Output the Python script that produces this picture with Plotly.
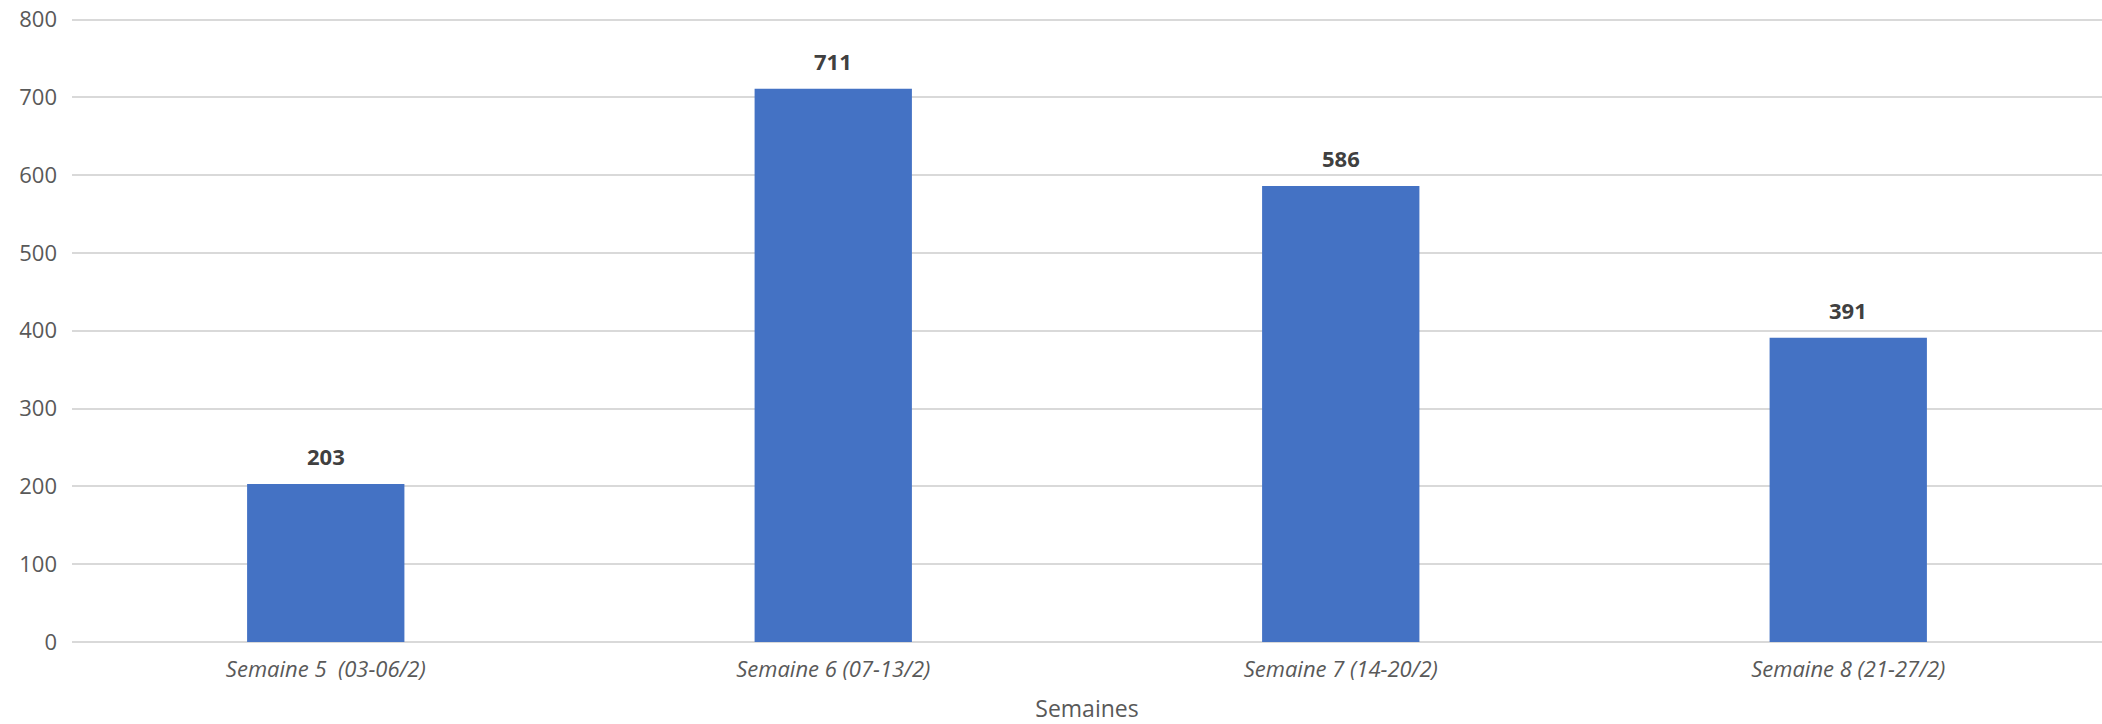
import plotly.graph_objects as go

categories = ["Semaine 5  (03-06/2)", "Semaine 6 (07-13/2)", "Semaine 7 (14-20/2)", "Semaine 8 (21-27/2)"]
values = [203, 711, 586, 391]
y_ticks = [0, 100, 200, 300, 400, 500, 600, 700, 800]

FONT = "Open Sans"

fig = go.Figure()
fig.add_trace(go.Bar(
    x=categories,
    y=values,
    marker=dict(color="#4472C4", line=dict(width=0)),
    showlegend=False,
    hoverinfo="x+y",
))

for c, v in zip(categories, values):
    fig.add_annotation(
        x=c, y=v, text=f"<b>{v}</b>", showarrow=False,
        yanchor="bottom", yshift=11,
        font=dict(family=FONT, size=22, color="#404040"),
    )

fig.update_layout(
    width=2102, height=724,
    margin=dict(l=72, r=0, t=18, b=82),
    paper_bgcolor="white", plot_bgcolor="white",
    bargap=0.69,
    font=dict(family=FONT, color="#595959"),
    xaxis=dict(
        tickfont=dict(family=FONT, size=22, color="#595959", style="italic"),
        title=dict(text="Semaines", font=dict(family=FONT, size=23, color="#595959"), standoff=20),
        showgrid=False, showline=False, ticks="", ticklabelstandoff=12,
        automargin=False,
    ),
    yaxis=dict(
        range=[0, 802],
        tickvals=y_ticks,
        tickfont=dict(family=FONT, size=22, color="#595959"),
        showgrid=True, gridcolor="#d9d9d9", gridwidth=1.5,
        zeroline=True, zerolinecolor="#d9d9d9", zerolinewidth=1.5,
        showline=False, ticks="", ticklabelstandoff=14,
        ticklabeloverflow="allow", automargin=False,
    ),
)

fig.write_html(
    "out.html",
    config={"displayModeBar": False},
    post_script="document.body.style.margin='0';document.body.style.overflow='hidden';",
)
